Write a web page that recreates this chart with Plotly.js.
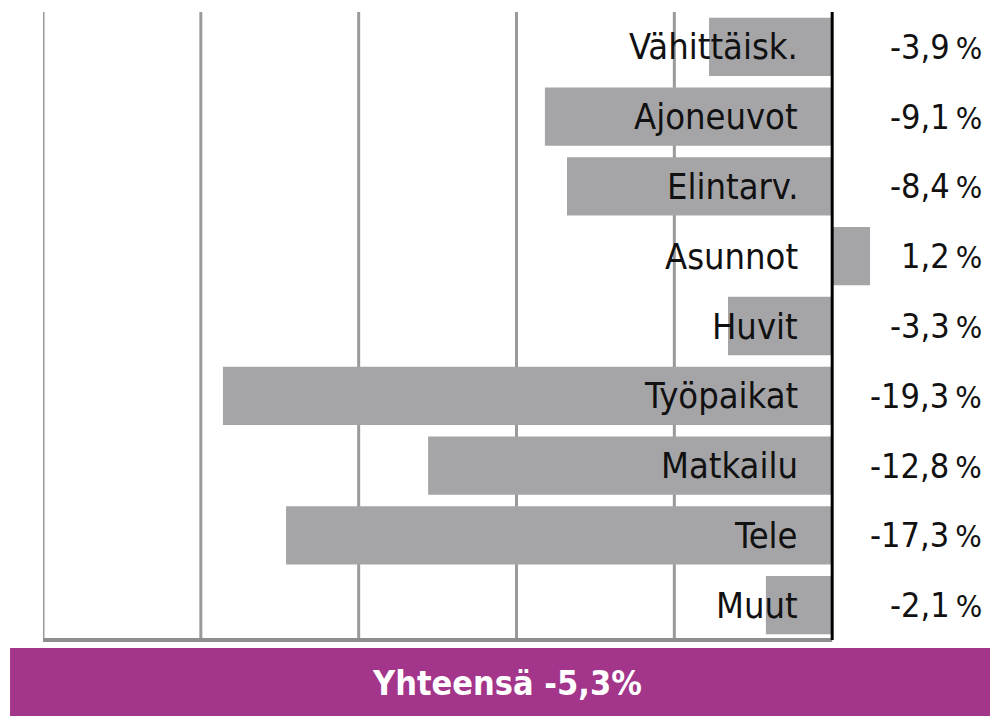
<!DOCTYPE html>
<html><head><meta charset="utf-8">
<script src="https://cdn.plot.ly/plotly-3.0.1.min.js"></script>
<style>html,body{margin:0;padding:0;background:#fff;}#chart{width:990px;height:716px;}</style>
</head><body><div id="chart"></div>
<script>
const categories = ["Vähittäisk.", "Ajoneuvot", "Elintarv.", "Asunnot", "Huvit", "Työpaikat", "Matkailu", "Tele", "Muut"];
const values = [-3.9, -9.1, -8.4, 1.2, -3.3, -19.3, -12.8, -17.3, -2.1];
const totalLabel = "Yhteensä";
const totalValue = -5.3;
const gridTicks = [-25, -20, -15, -10, -5];

const fmt = v => v.toFixed(1).replace('.', ',');
const FONT = '"DejaVu Sans Condensed", "DejaVu Sans", sans-serif';

const trace = {
  type: 'bar', orientation: 'h',
  x: values, y: categories,
  marker: {color: '#a5a5a8', line: {width: 0}},
  hoverinfo: 'skip'
};

const annotations = [];
categories.forEach((c, i) => {
  annotations.push({
    x: 0, y: c, xref: 'x', yref: 'y', xanchor: 'right', yanchor: 'middle',
    xshift: -32, yshift: 0, text: c, showarrow: false,
    font: {family: FONT, size: 36, color: '#111'}
  });
  annotations.push({
    x: 1, y: c, xref: 'paper', yref: 'y', xanchor: 'right', yanchor: 'middle',
    xshift: -6, text: fmt(values[i]) + '\u2009<span style="font-size:31px">%</span>', showarrow: false,
    font: {family: FONT, size: 34, color: '#111'}
  });
});
annotations.push({
  x: 0.49, y: -0.068, xref: 'paper', yref: 'paper', xanchor: 'center', yanchor: 'middle',
  text: '<b>' + totalLabel + ' ' + fmt(totalValue) + '%</b>', showarrow: false,
  font: {family: FONT, size: 34, color: '#ffffff'}
});

const shapes = gridTicks.map(t => ({
  type: 'line', xref: 'x', yref: 'paper', x0: t, x1: t, y0: 0, y1: 1,
  line: {color: '#9a9a9a', width: 3}, layer: 'below'
}));
shapes.push(
  {type: 'line', xref: 'x', yref: 'paper', x0: -25, x1: 0, y0: 0, y1: 0,
   line: {color: '#8e8e8e', width: 4}, layer: 'below'},
  {type: 'line', xref: 'x', yref: 'paper', x0: 0, x1: 0, y0: 0, y1: 1,
   line: {color: '#000000', width: 3}, layer: 'above'},
  {type: 'rect', xref: 'paper', yref: 'paper', x0: -0.0348, x1: 1, y0: -0.121, y1: -0.0127,
   fillcolor: '#a3358a', line: {width: 0}}
);

const layout = {
  width: 990, height: 716,
  margin: {l: 43, r: 0, t: 12, b: 76},
  paper_bgcolor: '#ffffff', plot_bgcolor: 'rgba(0,0,0,0)',
  showlegend: false,
  bargap: 0.165,
  xaxis: {
    range: [-25, 5], showticklabels: false, ticks: '',
    showgrid: false, zeroline: false, showline: false, fixedrange: true
  },
  yaxis: {
    categoryorder: 'array', categoryarray: categories, autorange: 'reversed',
    showticklabels: false, showgrid: false, zeroline: false, showline: false, fixedrange: true
  },
  shapes: shapes,
  annotations: annotations
};

Plotly.newPlot('chart', [trace], layout, {displayModeBar: false, staticPlot: true});
</script>
</body></html>
